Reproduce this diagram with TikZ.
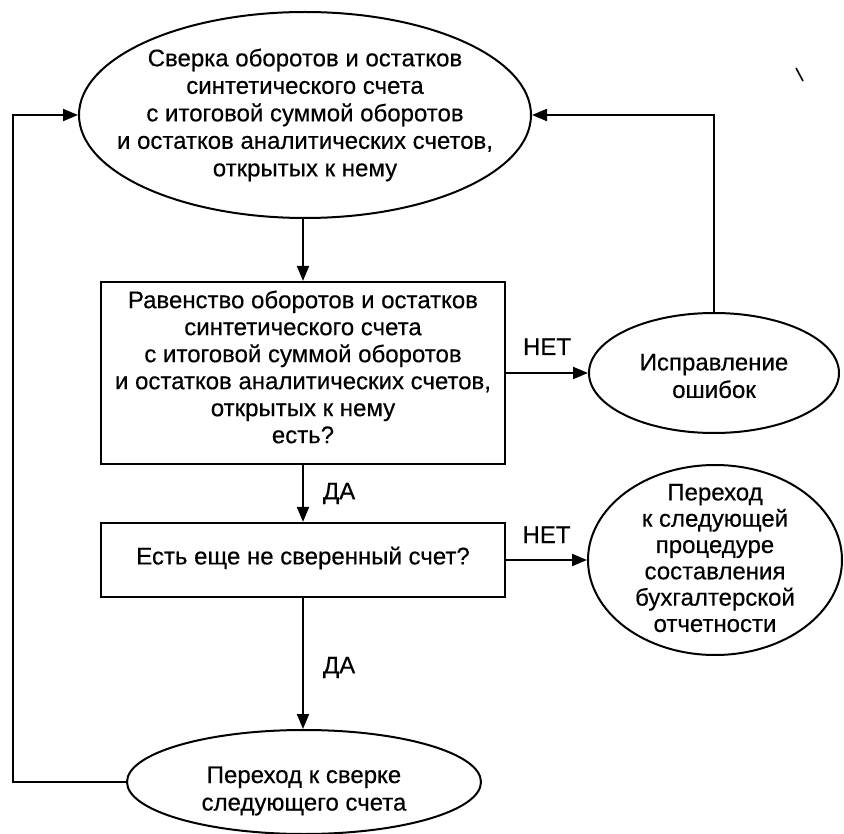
\documentclass[tikz,border=0pt]{standalone}
\usepackage{fontspec}
\setmainfont[FakeBold=0.4]{Liberation Sans}
\usetikzlibrary{shapes.geometric,arrows.meta}
\begin{document}
\begin{tikzpicture}[x=1pt,y=-1pt,
  every node/.style={font=\fontsize{24}{27.5}\selectfont},
  ell/.style={draw, ellipse, line width=2pt, inner sep=0pt},
  txt/.style={align=center, inner sep=0pt},
  box/.style={draw, rectangle, line width=2.2pt, inner sep=0pt},
  arr/.style={line width=2pt, -{Triangle[length=15pt,width=12pt]}},
  lab/.style={inner sep=0pt}]
\useasboundingbox (0,0) rectangle (844,834);

\node[ell, minimum width=452pt, minimum height=206pt] (top) at (305,115) {};
\node[txt] (topt) at (top.center) {Сверка оборотов и остатков\\синтетического счета\\с итоговой суммой оборотов\\и остатков аналитических счетов,\\открытых к нему};

\node[box, minimum width=404pt, minimum height=182pt] (r1) at (303,373) {};
\node[txt, font=\fontsize{24}{27}\selectfont] (r1t) at ([yshift=6pt]r1.center) {Равенство оборотов и остатков\\синтетического счета\\с итоговой суммой оборотов\\и остатков аналитических счетов,\\открытых к нему\\есть?};

\node[ell, minimum width=250pt, minimum height=120pt] (isp) at (714,373) {};
\node[txt] (ispt) at ([yshift=-3pt]isp.center) {Исправление\\ошибок};

\node[box, minimum width=404pt, minimum height=74pt] (r2) at (303,560) {};
\node[txt] (r2t) at ([yshift=2pt]r2.center) {Есть еще не сверенный счет?};

\node[ell, minimum width=254pt, minimum height=190pt] (next) at (715,560) {};
\node[txt, font=\fontsize{24}{26.3}\selectfont] (nextt) at ([yshift=2pt]next.center) {Переход\\к следующей\\процедуре\\составления\\бухгалтерской\\отчетности};

\node[ell, minimum width=354pt, minimum height=104pt] (bot) at (304,782) {};
\node[txt] (bott) at ([yshift=-9pt]bot.center) {Переход к сверке\\следующего счета};

\coordinate (lx) at (13,782);

\draw[arr] (r1.north |- top.south) -- (r1.north);
\draw[arr] (r1.east) -- node[lab, above=17pt]{НЕТ} (isp.west);
\draw[arr] (r1.south) -- node[lab, right=19pt]{ДА} (r2.north);
\draw[arr] (r2.east) -- node[lab, above=16pt]{НЕТ} (next.west);
\draw[arr] (r2.south) -- node[lab, right=19pt, yshift=-4pt]{ДА} (r2.south |- bot.north);
\draw[arr] (isp.north) |- (top.east);
\draw[arr] (bot.west) -- (lx) |- (top.west);

\draw[line width=1.6pt] (796,68) -- (803,81);
\end{tikzpicture}
\end{document}
